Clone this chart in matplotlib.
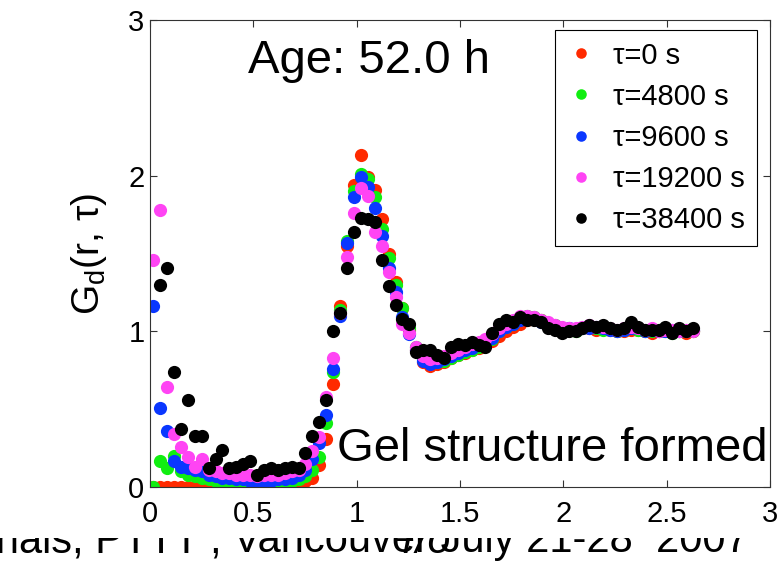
import numpy as np
import matplotlib
matplotlib.use('Agg')
import matplotlib.pyplot as plt
from matplotlib.transforms import Bbox, TransformedBbox

plt.rcParams['font.family'] = ['Liberation Sans', 'DejaVu Sans']

# r / sigma grid
r = [0.015, 0.049, 0.082, 0.116, 0.149, 0.183, 0.216, 0.25, 0.283, 0.317,
     0.35, 0.384, 0.417, 0.451, 0.484, 0.518, 0.551, 0.585, 0.618, 0.652,
     0.685, 0.719, 0.752, 0.786, 0.819, 0.853, 0.886, 0.92, 0.953, 0.987,
     1.02, 1.054, 1.087, 1.121, 1.154, 1.188, 1.221, 1.255, 1.288, 1.322,
     1.355, 1.389, 1.422, 1.456, 1.489, 1.523, 1.556, 1.59, 1.623, 1.657,
     1.69, 1.724, 1.757, 1.791, 1.824, 1.858, 1.891, 1.925, 1.958, 1.992,
     2.025, 2.059, 2.092, 2.126, 2.159, 2.193, 2.226, 2.26, 2.293, 2.327,
     2.36, 2.394, 2.427, 2.461, 2.494, 2.528, 2.561, 2.595, 2.628]

g_0 = [0.0, 0.0, 0.0, 0.0, 0.0, 0.0, 0.0, 0.0, 0.0, 0.0,
       0.0, 0.0, 0.0, 0.0, 0.0, 0.0, 0.0, 0.01, 0.01, 0.01,
       0.01, 0.02, 0.04, 0.06, 0.14, 0.31, 0.66, 1.16, 1.55, 1.94,
       2.13, 1.99, 1.91, 1.72, 1.50, 1.32, 1.15, 1.01, 0.88, 0.80,
       0.78, 0.79, 0.80, 0.83, 0.85, 0.86, 0.88, 0.89, 0.91, 0.94,
       0.97, 1.0, 1.03, 1.05, 1.07, 1.08, 1.07, 1.05, 1.03, 1.02,
       1.01, 1.01, 1.02, 1.02, 1.01, 1.02, 1.01, 1.0, 1.0, 1.01,
       1.01, 1.0, 0.99, 1.0, 1.01, 1.0, 1.0, 0.99, 1.0]

g_4800 = [0.0, 0.17, 0.12, 0.20, 0.10, 0.08, 0.07, 0.06, 0.05, 0.04,
          0.04, 0.03, 0.03, 0.02, 0.02, 0.02, 0.02, 0.03, 0.03, 0.03,
          0.04, 0.05, 0.07, 0.11, 0.19, 0.41, 0.74, 1.14, 1.58, 1.90,
          2.01, 1.98, 1.86, 1.66, 1.47, 1.30, 1.15, 1.02, 0.90, 0.82,
          0.80, 0.80, 0.81, 0.83, 0.85, 0.87, 0.88, 0.90, 0.92, 0.95,
          1.0, 1.03, 1.05, 1.08, 1.10, 1.09, 1.07, 1.05, 1.04, 1.02,
          1.01, 1.0, 1.02, 1.03, 1.02, 1.01, 1.02, 1.0, 1.01, 1.02,
          1.01, 1.0, 1.0, 1.01, 1.0, 0.99, 1.0, 1.01, 1.0]

g_9600 = [1.16, 0.51, 0.36, 0.17, 0.13, 0.12, 0.11, 0.10, 0.08, 0.07,
          0.06, 0.06, 0.05, 0.05, 0.04, 0.04, 0.04, 0.04, 0.05, 0.05,
          0.06, 0.08, 0.11, 0.18, 0.28, 0.46, 0.76, 1.10, 1.57, 1.86,
          1.99, 1.93, 1.79, 1.61, 1.41, 1.25, 1.09, 0.98, 0.88, 0.81,
          0.79, 0.80, 0.82, 0.84, 0.86, 0.88, 0.89, 0.91, 0.93, 0.96,
          1.0, 1.03, 1.05, 1.07, 1.08, 1.08, 1.06, 1.05, 1.03, 1.02,
          1.02, 1.01, 1.02, 1.02, 1.03, 1.02, 1.01, 1.0, 1.01, 1.02,
          1.02, 1.0, 1.01, 1.0, 1.0, 1.01, 1.0, 1.0, 1.01]

g_19200 = [1.46, 1.78, 0.64, 0.34, 0.26, 0.19, 0.13, 0.18, 0.11, 0.10,
           0.09, 0.09, 0.08, 0.08, 0.08, 0.07, 0.08, 0.08, 0.08, 0.09,
           0.10, 0.11, 0.15, 0.23, 0.32, 0.58, 0.83, 1.12, 1.48, 1.76,
           1.92, 1.87, 1.64, 1.55, 1.38, 1.22, 1.05, 0.99, 0.90, 0.84,
           0.82, 0.83, 0.84, 0.86, 0.88, 0.90, 0.92, 0.93, 0.95, 0.98,
           1.02, 1.05, 1.07, 1.10, 1.10, 1.09, 1.07, 1.06, 1.04, 1.03,
           1.02, 1.02, 1.03, 1.04, 1.03, 1.03, 1.02, 1.01, 1.02, 1.03,
           1.02, 1.01, 1.02, 1.0, 1.01, 1.01, 1.0, 1.01, 1.0]

g_38400 = [np.nan, 1.30, 1.41, 0.74, 0.37, 0.56, 0.33, 0.33, 0.12, 0.18,
           0.24, 0.12, 0.13, 0.15, 0.17, 0.08, 0.11, 0.12, 0.11, 0.12,
           0.13, 0.12, 0.22, 0.33, 0.42, 0.56, 1.0, 1.12, 1.41, 1.64,
           1.73, 1.72, 1.70, 1.46, 1.29, 1.17, 1.08, 1.05, 0.87, 0.88,
           0.88, 0.85, 0.83, 0.90, 0.92, 0.91, 0.93, 0.91, 0.90, 0.99,
           1.05, 1.07, 1.06, 1.09, 1.07, 1.07, 1.06, 1.02, 1.01, 0.99,
           1.0, 1.0, 1.02, 1.04, 1.03, 1.04, 1.02, 1.01, 1.02, 1.06,
           1.03, 1.01, 1.01, 1.01, 1.03, 0.99, 1.02, 1.0, 1.02]

labels = ['\u03c4=0 s', '\u03c4=4800 s', '\u03c4=9600 s', '\u03c4=19200 s', '\u03c4=38400 s']
colors = ['#ff2a00', '#11ee11', '#0a37ff', '#ff44f4', 'black']
series = [g_0, g_4800, g_9600, g_19200, g_38400]

fig = plt.figure(figsize=(7.83, 5.61), dpi=100)
ax = fig.add_axes([0.1916, 0.1319, 0.7918, 0.8324])

for g, c, lab in zip(series, colors, labels):
    ax.plot(r, g, 'o', color=c, ms=9.5, mew=0, label=lab)

ax.set_xlim(0, 3)
ax.set_ylim(0, 3)
ax.set_xticks([0, 0.5, 1, 1.5, 2, 2.5, 3])
ax.set_xticklabels(['0', '0.5', '1', '1.5', '2', '2.5', '3'])
ax.set_yticks([0, 1, 2, 3])
ax.tick_params(direction='in', top=True, right=True, length=5, width=0.8,
               labelsize=21, color='#333333')
ax.tick_params(axis='x', pad=9)
ax.tick_params(axis='y', pad=4)
for s in ax.spines.values():
    s.set_linewidth(0.8)
    s.set_color('#333333')

ax.set_ylabel('G$_\\mathregular{d}$(r, \u03c4)', fontsize=28, labelpad=14)

ax.text(1.06, 2.66, 'Age: 52.0 h', fontsize=34, ha='center', va='baseline')
ax.text(0.905, 0.17, 'Gel structure formed', fontsize=34, ha='left', va='baseline')

leg = ax.legend(loc='upper right', bbox_to_anchor=(0.979, 0.979), borderaxespad=0,
                fontsize=21, markerscale=0.8, fancybox=False, framealpha=1,
                edgecolor='black', handlelength=1.0, handletextpad=0.6,
                labelspacing=0.45, borderpad=0.4)
leg.get_frame().set_linewidth(0.8)

# slide footer and x label, only their lower part shows
clip = TransformedBbox(Bbox.from_extents(0, 0, 1, 0.041), fig.transFigure)
t1 = fig.text(233 / 783, 9 / 561, 'Vancouver July 21-28  2007', fontsize=30,
              ha='left', va='baseline')
t2 = fig.text(222 / 783, 9 / 561, 'chals, PTTT ,', fontsize=30,
              ha='right', va='baseline')
t3 = fig.text(428 / 783, 8 / 561, 'r/\u03c3', fontsize=30, style='italic',
              ha='center', va='baseline')
for t in (t1, t2, t3):
    t.set_clip_box(clip)
    t.set_clip_on(True)

fig.savefig('out.png', dpi=100)
